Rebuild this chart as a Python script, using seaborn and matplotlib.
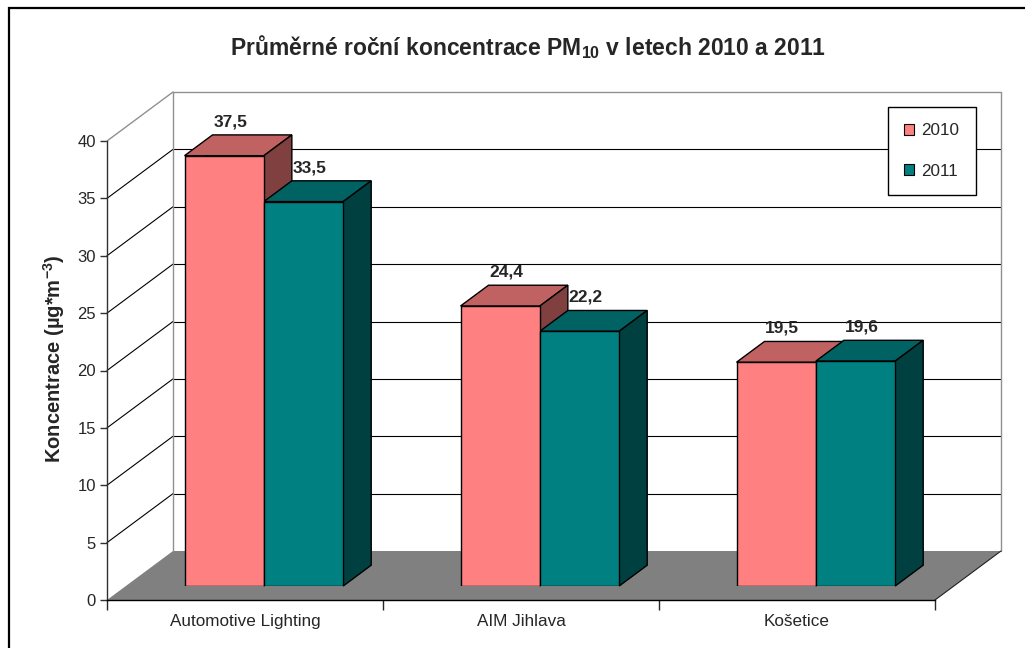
import matplotlib
matplotlib.use("Agg")
import matplotlib.pyplot as plt
from matplotlib.patches import Polygon, Patch, Rectangle
import seaborn as sns
import pandas as pd

# ---- data ----
sites = ["Automotive Lighting", "AIM Jihlava", "Košetice"]
years = ["2010", "2011"]
values_2010 = [37.5, 24.4, 19.5]
values_2011 = [33.5, 22.2, 19.6]
y_ticks = [0, 5, 10, 15, 20, 25, 30, 35, 40]
title = "Průměrné roční koncentrace PM$_{\\mathbf{10}}$ v letech 2010 a 2011"
ylabel = "Koncentrace (µg*m$^{\\mathbf{-3}}$)"

front_colors = {"2010": "#FF8080", "2011": "#008080"}
top_colors = {"2010": "#C06262", "2011": "#006262"}
side_colors = {"2010": "#804040", "2011": "#004040"}

df = pd.DataFrame({
    "site": sites * 2,
    "year": [years[0]] * 3 + [years[1]] * 3,
    "value": values_2010 + values_2011,
})

sns.set_style("white")
plt.rcParams["font.family"] = ["Liberation Sans", "DejaVu Sans"]
plt.rcParams["mathtext.fontset"] = "custom"
plt.rcParams["mathtext.rm"] = "Liberation Sans"
plt.rcParams["mathtext.bf"] = "Liberation Sans:bold"

W, H = 1025, 648
fig = plt.figure(figsize=(W / 100, H / 100), dpi=100)
fig.patch.set_facecolor("white")

# geometry (pixels)
X0, Y0 = 107, 600      # front-left origin of floor
CW = 276               # category width
PXY = 11.475           # px per unit
DX, DY = 66, 49        # depth offset
Z0, Z1 = 0.286, 0.71   # bar depth range
YMAX = 45

def Q(x3, y, z):
    """3D -> front plane axes coords"""
    return (x3 + DX * z / CW, y + DY * z / PXY)

# front plane axes (walls, floor, ticks)
ax0 = fig.add_axes([X0 / W, (H - Y0) / H, 3 * CW / W, YMAX * PXY / H])
ax0.set_xlim(0, 3)
ax0.set_ylim(0, YMAX)
ax0.patch.set_alpha(0)
for s in ["top", "right"]:
    ax0.spines[s].set_visible(False)
ax0.spines["left"].set_bounds(0, 40)
ax0.spines["left"].set_color("#303030")
ax0.spines["bottom"].set_color("black")
ax0.spines["left"].set_linewidth(1.0)
ax0.spines["bottom"].set_linewidth(1.0)
ax0.set_yticks(y_ticks)
ax0.set_yticklabels([str(t) for t in y_ticks])
ax0.tick_params(axis="y", direction="out", length=5, width=1, color="#303030",
                labelsize=12, pad=3, left=True)
ax0.set_xticks([0, 1, 2, 3])
ax0.set_xticklabels([])
ax0.set_xticks([0.5, 1.5, 2.5], minor=True)
ax0.set_xticklabels(sites, minor=True)
ax0.tick_params(axis="x", which="major", direction="out", length=7, width=1, bottom=True)
ax0.tick_params(axis="x", which="minor", length=0, labelsize=12.3, pad=10)
ax0.set_ylabel(ylabel, fontsize=14.5, fontweight="bold")
ax0.yaxis.set_label_coords((67 - X0) / (3 * CW), (Y0 - 359) / (YMAX * PXY))

# floor
floor = Polygon([Q(0, 0, 0), Q(3, 0, 0), Q(3, 0, 1), Q(0, 0, 1)], closed=True,
                facecolor="#808080", edgecolor="none", zorder=1, clip_on=False)
ax0.add_patch(floor)
# gridlines back wall + left wall
for t in y_ticks[1:]:
    col = "#909090" if t == 40 else "black"
    lw = 1.0 if t == 40 else 0.8
    a, b = Q(0, t, 1), Q(3, t, 1)
    ax0.plot([a[0], b[0]], [a[1], b[1]], color=col, lw=lw, zorder=1.5, clip_on=False)
    a, b = Q(0, t, 0), Q(0, t, 1)
    ax0.plot([a[0], b[0]], [a[1], b[1]], color=col, lw=lw, zorder=1.5, clip_on=False)
for xx in [0, 3]:
    a, b = Q(xx, 0, 1), Q(xx, 40, 1)
    ax0.plot([a[0], b[0]], [a[1], b[1]], color="#909090", lw=1.0, zorder=1.5, clip_on=False)
a, b = Q(3, 0, 0), Q(3, 0, 1)
ax0.plot([a[0], b[0]], [a[1], b[1]], color="#202020", lw=0.8, zorder=1.6, clip_on=False)

# bar face axes at depth Z0
fx = X0 + DX * Z0
fy = Y0 - DY * Z0
ax1 = fig.add_axes([fx / W, (H - fy) / H, 3 * CW / W, YMAX * PXY / H])
sns.barplot(data=df, x="site", y="value", hue="year", hue_order=years,
            palette=[front_colors[y] for y in years], width=0.575,
            edgecolor="black", linewidth=1.0, saturation=1, legend=False, ax=ax1)
ax1.set_xlim(-0.5, 2.5)
ax1.set_ylim(0, YMAX)
ax1.axis("off")
ax1.patch.set_alpha(0)

du = DX * (Z1 - Z0) / CW
dv = DY * (Z1 - Z0) / PXY
for k, (cont, yr) in enumerate(zip(ax1.containers, years)):
    for bar in cont:
        bar.set_zorder(3)
        xl = bar.get_x()
        xr = xl + bar.get_width()
        h = bar.get_height()
        top = Polygon([(xl, h), (xr, h), (xr + du, h + dv), (xl + du, h + dv)], closed=True,
                      facecolor=top_colors[yr], edgecolor="black", lw=1.0,
                      zorder=2 + 0.5 * k, clip_on=False)
        side = Polygon([(xr, 0), (xr, h), (xr + du, h + dv), (xr + du, dv)], closed=True,
                       facecolor=side_colors[yr], edgecolor="black", lw=1.0,
                       zorder=2 + 0.5 * k, clip_on=False)
        ax1.add_patch(top)
        ax1.add_patch(side)
        ax1.annotate(f"{h:.1f}".replace(".", ","), xy=((xl + xr) / 2, h + dv),
                     xytext=(4.3, 9.4), textcoords="offset points", ha="center", va="center",
                     fontsize=12.5, fontweight="bold", zorder=5, annotation_clip=False)

# legend
handles = [Patch(facecolor=front_colors[y], edgecolor="black", lw=0.8) for y in years]
leg = fig.legend(handles, years, loc="upper left", bbox_to_anchor=(888 / W, 1 - 107 / H),
                 borderaxespad=0, frameon=True, fancybox=False, edgecolor="black",
                 framealpha=1, handlelength=0.6, handleheight=0.6, handletextpad=0.4,
                 labelspacing=1.5, borderpad=0.95, fontsize=12.3)
leg.get_frame().set_linewidth(1.0)

# title
fig.text(528 / W, 1 - 47 / H, title, ha="center", va="center", fontsize=16.5, fontweight="bold")

# outer frame
fig.patches.append(Rectangle((8.5 / W, -0.1), 1.2, (H - 8.5) / H + 0.1, transform=fig.transFigure,
                             fill=False, edgecolor="black", lw=1.6))

fig.savefig("out.png", dpi=100)
